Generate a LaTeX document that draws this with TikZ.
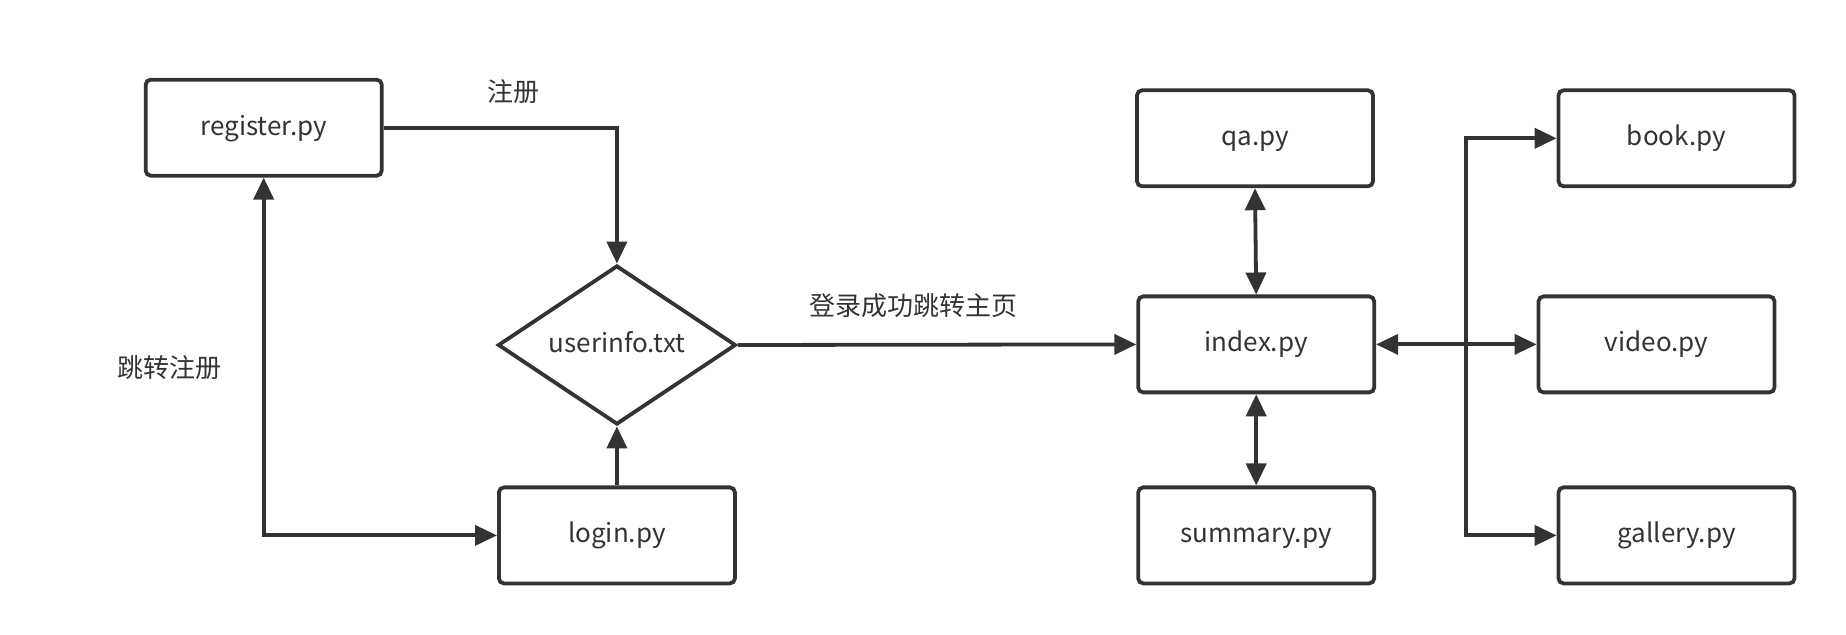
\documentclass[tikz,border=0pt]{standalone}
\usepackage{fontspec}
\setmainfont{Noto Sans CJK SC}
\usetikzlibrary{shapes.geometric,arrows.meta}
\definecolor{ink}{HTML}{333333}
\begin{document}
\begin{tikzpicture}[x=0.5pt,y=-0.5pt,
  font=\fontsize{13}{15}\selectfont, text=ink,
  box/.style={draw=ink, line width=1.9pt, rounded corners=2.5pt, minimum width=118pt, minimum height=48pt, inner sep=0pt, text height=0.86em, text depth=0.10em},
  dia/.style={draw=ink, line width=1.9pt, diamond, minimum width=119pt, minimum height=79.5pt, inner sep=0pt, text height=0.86em, text depth=0.10em},
  conn/.style={draw=ink, line width=1.9pt, -{Triangle[length=11pt,width=10pt]}},
  bconn/.style={draw=ink, line width=1.9pt, {Triangle[length=11pt,width=10pt]}-{Triangle[length=11pt,width=10pt]}},
  lbl/.style={inner sep=0pt}]
\useasboundingbox (0,0) rectangle (1846,635);
\node[box] (register) at (263.7,127.7) {register.py};
\node[dia] (userinfo) at (616.9,345.0) {userinfo.txt};
\node[box] (login) at (616.9,535.4) {login.py};
\node[box] (index) at (1256.2,344.4) {index.py};
\node[box] (qa) at (1255.0,138.3) {qa.py};
\node[box] (summary) at (1256.2,535.4) {summary.py};
\node[box] (book) at (1676.5,138.3) {book.py};
\node[box] (video) at (1656.5,344.4) {video.py};
\node[box] (gallery) at (1676.5,535.4) {gallery.py};
\node[lbl] (l1) at (513.3,91.8) {注册};
\node[lbl] (l2) at (169.5,367.3) {跳转注册};
\node[lbl] (l3) at (913.6,306.1) {登录成功跳转主页};
\coordinate (split) at (1465.7,344.4);
\draw[conn] (register.east) -| (userinfo.north);
\draw[conn] (login.north) -- (userinfo.south);
\draw[bconn] (login.west) -| (register.south);
\draw[conn] (userinfo.east) -- (index.west);
\draw[bconn] (index.north) -- (qa.south);
\draw[bconn] (index.south) -- (summary.north);
\draw[bconn] (index.east) -- (video.west);
\draw[conn] (split) |- (book.west);
\draw[conn] (split) |- (gallery.west);
\end{tikzpicture}
\end{document}
